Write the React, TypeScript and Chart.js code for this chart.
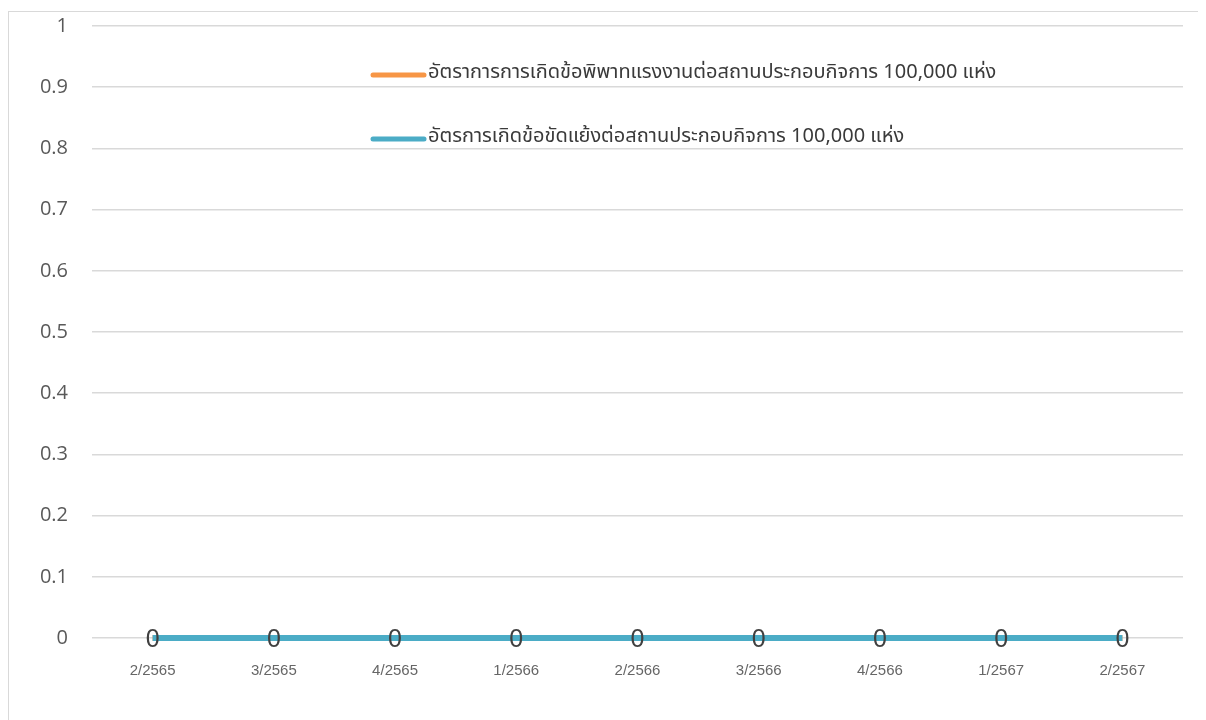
import React, { useEffect, useRef } from "react";
import { Chart, registerables } from "chart.js";

Chart.register(...registerables);

const categories = ["2/2565", "3/2565", "4/2565", "1/2566", "2/2566", "3/2566", "4/2566", "1/2567", "2/2567"];
const disputeRate = [0, 0, 0, 0, 0, 0, 0, 0, 0];
const conflictRate = [0, 0, 0, 0, 0, 0, 0, 0, 0];
const seriesNames = [
  "อัตราการการเกิดข้อพิพาทแรงงานต่อสถานประกอบกิจการ 100,000 แห่ง",
  "อัตรการเกิดข้อขัดแย้งต่อสถานประกอบกิจการ 100,000 แห่ง",
];
const seriesColors = ["#F79646", "#4BACC6"];

const legendPlugin = {
  id: "customLegend",
  afterDraw(chart: any) {
    const ctx = chart.ctx;
    const items = [
      { x: 361, y: 63 },
      { x: 361, y: 127 },
    ];
    chart.data.datasets.forEach((ds: any, i: number) => {
      const p = items[i];
      ctx.save();
      ctx.strokeStyle = ds.borderColor;
      ctx.lineWidth = 5;
      ctx.lineCap = "round";
      ctx.beginPath();
      ctx.moveTo(p.x + 3, p.y);
      ctx.lineTo(p.x + 54, p.y);
      ctx.stroke();
      ctx.fillStyle = "#3A3A3A";
      ctx.font = "20px Tahoma, 'Noto Sans Thai', 'Noto Sans', sans-serif";
      ctx.textAlign = "left";
      ctx.textBaseline = "middle";
      ctx.fillText(ds.label, p.x + 58, p.y - 1);
      ctx.restore();
    });
  },
};

const labelPlugin = {
  id: "pointLabels",
  afterDatasetsDraw(chart: any) {
    const ctx = chart.ctx;
    const meta = chart.getDatasetMeta(1);
    const data = chart.data.datasets[1].data;
    ctx.save();
    ctx.fillStyle = "#404040";
    ctx.font = "25px 'Liberation Sans Narrow', 'Liberation Sans', sans-serif";
    ctx.textAlign = "center";
    ctx.textBaseline = "middle";
    meta.data.forEach((pt: any, i: number) => {
      ctx.fillText(String(data[i]), pt.x, pt.y + 2);
    });
    ctx.restore();
  },
};

export default function App() {
  const ref = useRef<HTMLCanvasElement>(null);
  useEffect(() => {
    document.body.style.overflow = "hidden";
    if (!ref.current) return;
    const chart = new Chart(ref.current, {
      type: "line",
      data: {
        labels: categories,
        datasets: [
          {
            label: seriesNames[0],
            data: disputeRate,
            borderColor: seriesColors[0],
            backgroundColor: seriesColors[0],
            borderWidth: 6,
            pointRadius: 0,
            clip: false,
            order: 2,
          },
          {
            label: seriesNames[1],
            data: conflictRate,
            borderColor: seriesColors[1],
            backgroundColor: seriesColors[1],
            borderWidth: 6,
            pointRadius: 0,
            clip: false,
            order: 1,
          },
        ],
      },
      options: {
        animation: false,
        responsive: true,
        maintainAspectRatio: false,
        layout: { padding: { top: 14, right: 44, left: 0, bottom: 0 } },
        plugins: {
          legend: { display: false },
          tooltip: { enabled: false },
        },
        scales: {
          x: {
            offset: true,
            grid: { display: false, drawTicks: false },
            border: { display: false },
            ticks: {
              color: "#666666",
              font: { family: "'Liberation Sans', Arial, sans-serif", size: 15 },
              padding: 24,
              maxRotation: 0,
            },
            afterFit(scale: any) {
              scale.height = 102;
              scale.paddingLeft = 0;
              scale.paddingRight = 0;
            },
          },
          y: {
            min: 0,
            max: 1,
            ticks: {
              stepSize: 0.1,
              color: "#595959",
              font: { family: "'Open Sans', sans-serif", size: 20 },
              padding: 24,
              callback: (v: any) => String(Math.round(Number(v) * 10) / 10),
            },
            grid: { color: "#D9D9D9", lineWidth: 1.5, drawTicks: false },
            border: { display: false },
            afterFit(scale: any) {
              scale.width = 83;
              scale.paddingTop = 0;
              scale.paddingBottom = 0;
            },
          },
        },
      },
      plugins: [legendPlugin, labelPlugin],
    });
    return () => chart.destroy();
  }, []);
  return (
    <div style={{ paddingTop: 3 }}>
      <div
        style={{
          width: 1220,
          height: 730,
          border: "1px solid #D9D9D9",
          boxSizing: "border-box",
          position: "relative",
          background: "#fff",
        }}
      >
        <canvas ref={ref} />
      </div>
    </div>
  );
}
